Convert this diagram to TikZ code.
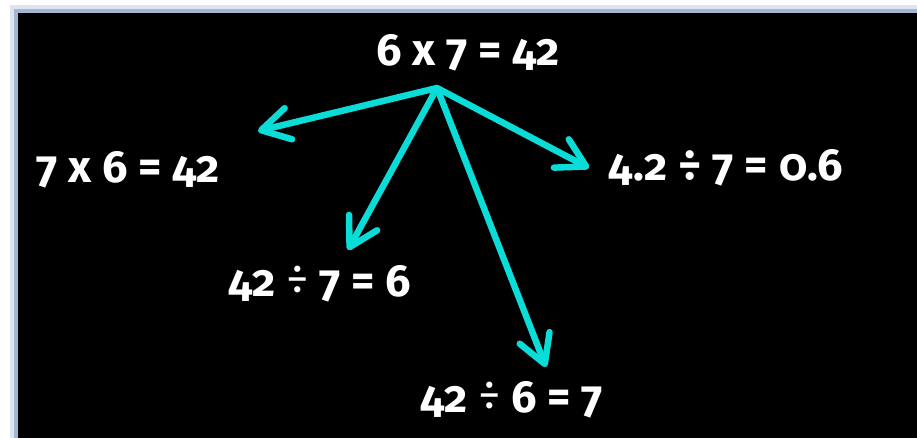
\documentclass[tikz,border=0pt]{standalone}
\usepackage{fontspec}
\setmainfont{Fira Sans}[Numbers=OldStyle]
\usepackage{xcolor}
\definecolor{arrowcyan}{HTML}{0ADCD8}
\definecolor{frameblue}{HTML}{A4B6D2}
\definecolor{frameglow}{HTML}{DCE4F0}
\usetikzlibrary{arrows.meta}
\newcommand{\dv}{{\mdseries\raisebox{1.5pt}{÷}}}

\begin{document}
\begin{tikzpicture}[x=0.025cm, y=-0.025cm,
  fact/.style={text=white, font=\fontsize{32}{35}\selectfont\bfseries, inner sep=0pt},
  link/.style={arrowcyan, line width=4.6pt, line cap=round,
    -{Straight Barb[length=0.7cm, width=0.8cm, line cap=round, line join=round]}}]
\useasboundingbox (0,0) rectangle (917,437);
\fill[white] (0,0) rectangle (917,437);
\draw[frameglow, line width=8pt] (16,11) rectangle (940,460);
\fill[black] (16,11) rectangle (940,460);
\draw[frameblue, line width=2.5pt] (16,11) rectangle (940,460);

\node[fact] (top) at (468,53) {6 x 7 = 42};
\node[fact] (swap) at (128,170) {7 x 6 = 42};
\node[fact] (dec) at (726,168) {4.2 ÷ 7 = 0.6};
\node[fact] (divseven) at (320,284) {42 \dv\ 7 = 6};
\node[fact] (divsix) at (512,400) {42 \dv\ 6 = 7};

\coordinate (hub) at (437,88);
\coordinate (toswap) at (258,131);
\coordinate (todivseven) at (348,250);
\coordinate (todec) at (589,168);
\coordinate (todivsix) at (546,367);

\draw[link] (hub) -- (toswap);
\draw[link] (hub) -- (todivseven);
\draw[link] (hub) -- (todec);
\draw[link] (hub) -- (todivsix);
\end{tikzpicture}
\end{document}
